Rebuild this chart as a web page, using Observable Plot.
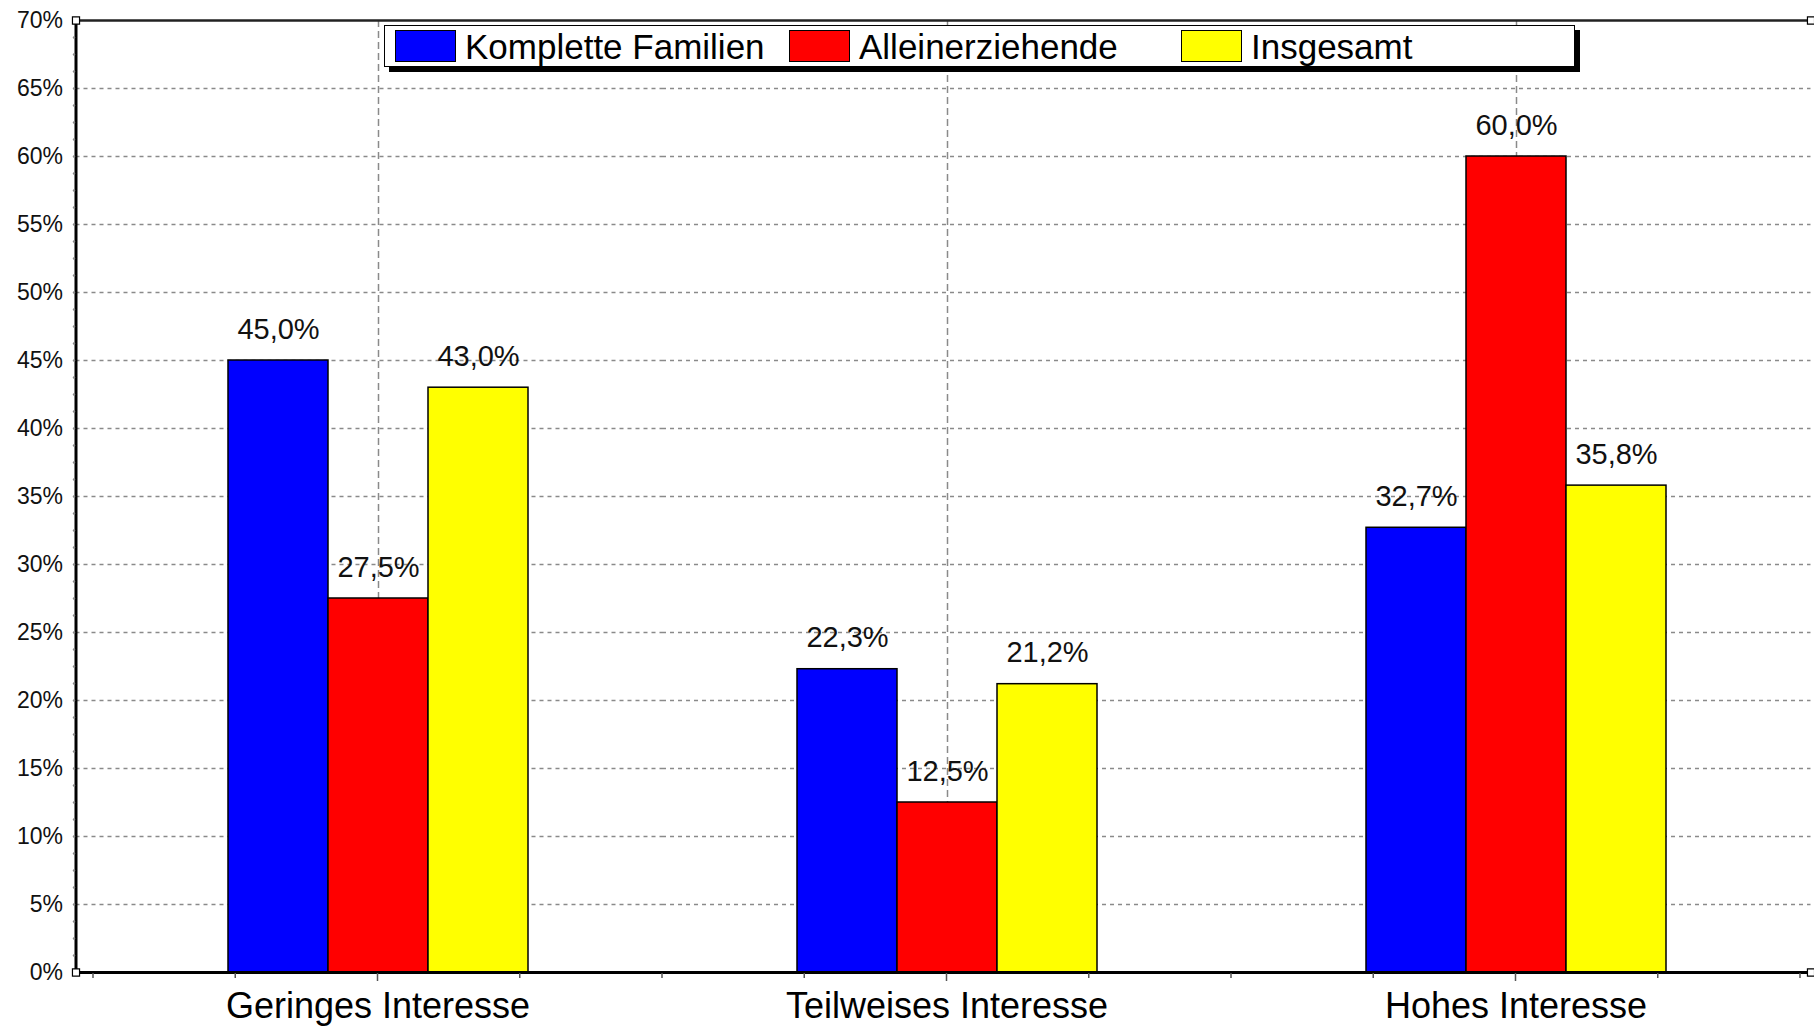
<!DOCTYPE html>
<html>
<head>
<meta charset="utf-8">
<script src="https://cdn.jsdelivr.net/npm/d3@7"></script>
<script src="https://cdn.jsdelivr.net/npm/@observablehq/plot@0.6"></script>
<style>
  html, body { margin: 0; padding: 0; background: #fff; }
  #wrap { position: relative; width: 1814px; height: 1026px; overflow: hidden; font-family: "Liberation Sans", Arial, sans-serif; }
  #chart svg { display: block; }
  #legend { position: absolute; left: 384px; top: 25px; width: 1189px; height: 40px; border: 1.5px solid #000; background: #fff; box-shadow: 5px 5px 0 #000; }
  .item { position: absolute; top: 0; height: 40px; display: flex; align-items: center; font-size: 35px; color: #000; white-space: nowrap; }
  .item span { position: relative; top: 1px; }
  .sw { width: 59px; height: 30px; border: 1.5px solid #000; margin-right: 9px; }
</style>
</head>
<body>
<div id="wrap">
  <div id="chart"></div>
  <div id="legend"></div>
</div>
<script>
// ---- data ----
const categories = ["Geringes Interesse", "Teilweises Interesse", "Hohes Interesse"];
const series = ["Komplette Familien", "Alleinerziehende", "Insgesamt"];
const kompletteFamilien = [45.0, 22.3, 32.7];
const alleinerziehende = [27.5, 12.5, 60.0];
const insgesamt = [43.0, 21.2, 35.8];
const seriesColors = ["#0000ff", "#ff0000", "#ffff00"];
const yTicks = [0, 5, 10, 15, 20, 25, 30, 35, 40, 45, 50, 55, 60, 65, 70];
const yMinorTicks = d3.range(0, 70.001, 1.25);

const seriesValues = [kompletteFamilien, alleinerziehende, insgesamt];
const table = [];
seriesValues.forEach((vals, si) => vals.forEach((v, ci) => table.push({category: categories[ci], series: series[si], value: v})));

const pct = v => d3.format(".1f")(v).replace(".", ",") + "%";

// ---- layout ----
const W = 1814, H = 1026, mL = 75, mR = 4, mT = 20, mB = 54;
const fxPadOuter = 0.0246, fxAlign = 0.625;
const frameW = W - mL - mR;
const fxStep = frameW / (categories.length + 2 * fxPadOuter);
const outerTotal = 2 * fxPadOuter * fxStep;
const leftGap = outerTotal * fxAlign;
const rightGap = outerTotal - leftGap;
const last = categories.length - 1;

// horizontal rules spanning the whole frame, drawn facet by facet
function spanRuleY(values, opts) {
  return categories.map((c, i) => Plot.ruleY(values, {
    y: d => d, fx: () => c,
    insetLeft: i === 0 ? -leftGap : 0,
    insetRight: i === last ? -rightGap : 0,
    ...opts
  }));
}
const first = () => categories[0];
const lastCat = () => categories[last];

const plot = Plot.plot({
  width: W,
  height: H,
  marginLeft: mL,
  marginRight: mR,
  marginTop: mT,
  marginBottom: mB,
  style: {fontFamily: "'Liberation Sans', Arial, sans-serif", fontSize: "36px", color: "#000", background: "transparent", overflow: "visible"},
  fx: {domain: categories, paddingInner: 0, paddingOuter: fxPadOuter, align: fxAlign, label: null, axis: "bottom", tickSize: 0, tickPadding: 20},
  x: {domain: series, paddingInner: 0, paddingOuter: 1.345, axis: null},
  y: {domain: [0, 70], axis: null},
  color: {domain: series, range: seriesColors},
  marks: [
    ...spanRuleY(yTicks.filter(t => t > 0 && t < 70), {stroke: "#8a8a8a", strokeWidth: 1.5, strokeDasharray: "4,4"}),
    Plot.ruleX([series[1]], {x: d => d, stroke: "#8a8a8a", strokeWidth: 1.5, strokeDasharray: "7,4"}),
    Plot.barY(table, {fx: "category", x: "series", y: "value", fill: "series", stroke: "#000", strokeWidth: 1.5}),
    Plot.text(table, {fx: "category", x: "series", y: "value", text: d => pct(d.value), lineAnchor: "bottom", dy: -22, fontSize: 29, fill: "#111"}),
    ...spanRuleY([70], {stroke: "#222", strokeWidth: 2.5}),
    ...spanRuleY([0], {stroke: "#000", strokeWidth: 3}),
    Plot.frame({anchor: "left", facet: "super", dx: -leftGap, stroke: "#000", strokeWidth: 3}),
    Plot.dot(yMinorTicks, {fx: first, y: d => d, frameAnchor: "left", dx: -leftGap - 2, r: 1.2, fill: "#888", stroke: null}),
    Plot.text(yTicks, {fx: first, y: d => d, text: d => d + "%", frameAnchor: "left", textAnchor: "end", dx: -leftGap - 13, fontSize: 23, fill: "#111"}),
    Plot.dot([70, 0], {fx: first, y: d => d, frameAnchor: "left", dx: -leftGap, symbol: "square", r: 4, fill: "#fff", stroke: "#000", strokeWidth: 1.2}),
    Plot.dot([70, 0], {fx: lastCat, y: d => d, frameAnchor: "right", dx: rightGap, symbol: "square", r: 4, fill: "#fff", stroke: "#000", strokeWidth: 1.2})
  ]
});
document.getElementById("chart").appendChild(plot);

// quarter tick marks along the category axis, positioned from the fx scale
const fx = plot.scale("fx");
const y0 = plot.scale("y").apply(0);
const svg = d3.select(plot);
const tickG = svg.append("g").attr("stroke", "#555").attr("stroke-width", 1.5);
categories.forEach((c, i) => {
  const start = fx.apply(c);
  const n = i === last ? 4 : 3;
  for (let k = 0; k <= n; k++) {
    const xx = start + k * fx.step / 4;
    tickG.append("line").attr("x1", xx).attr("x2", xx).attr("y1", y0 + 1).attr("y2", y0 + (k === 2 ? 9 : 6));
  }
});

// legend
const legend = d3.select("#legend");
const itemX = [10, 404, 796];
series.forEach((s, i) => {
  const it = legend.append("div").attr("class", "item").style("left", itemX[i] + "px");
  it.append("div").attr("class", "sw").style("background", seriesColors[i]);
  it.append("span").text(s);
});
</script>
</body>
</html>
